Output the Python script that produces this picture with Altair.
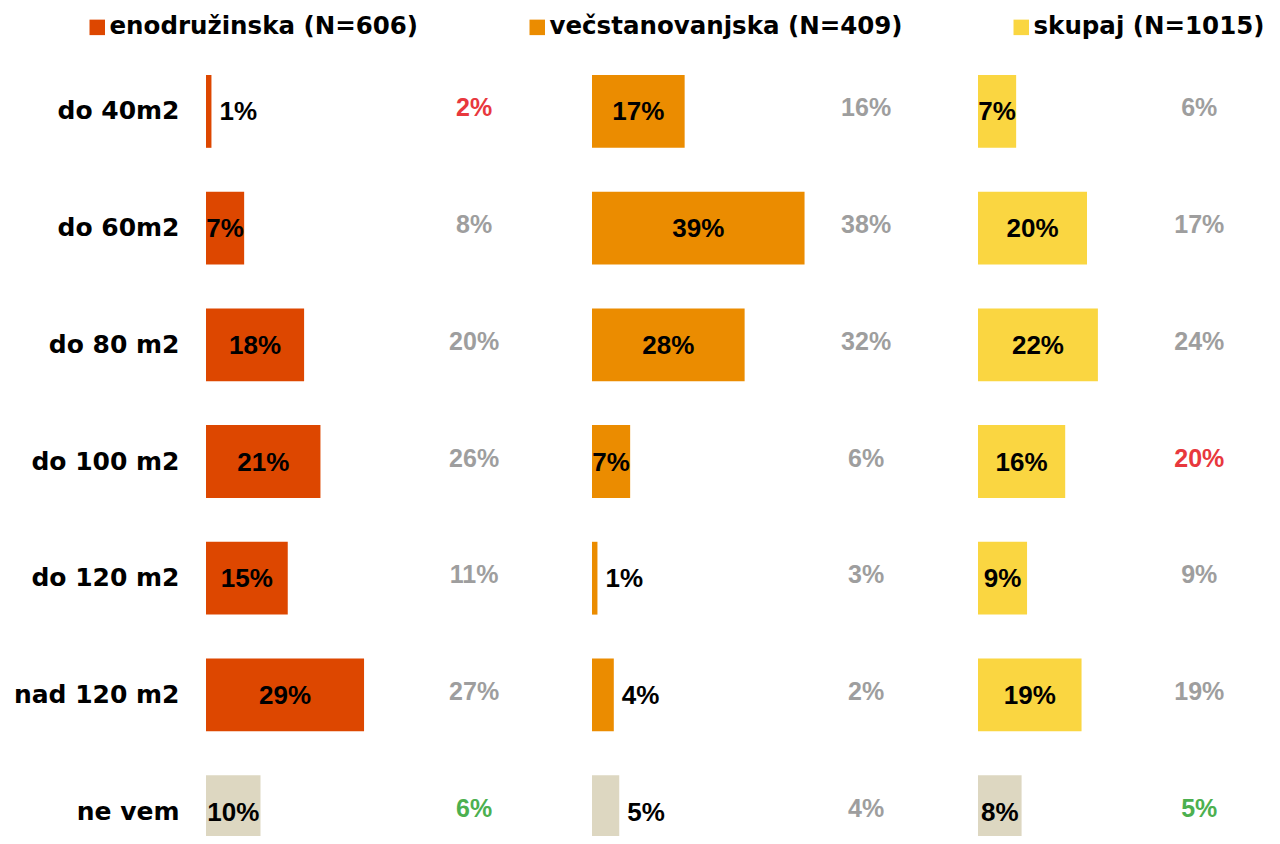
import altair as alt
import pandas as pd

rows = ["do 40m2", "do 60m2", "do 80 m2", "do 100 m2", "do 120 m2", "nad 120 m2", "ne vem"]
series = ["enodružinska (N=606)", "večstanovanjska (N=409)", "skupaj (N=1015)"]

eno = [1, 7, 18, 21, 15, 29, 10]
eno_cmp = [2, 8, 20, 26, 11, 27, 6]
eno_flag = ["up", "", "", "", "", "", "down"]

vec = [17, 39, 28, 7, 1, 4, 5]
vec_cmp = [16, 38, 32, 6, 3, 2, 4]
vec_flag = ["", "", "", "", "", "", ""]

sku = [7, 20, 22, 16, 9, 19, 8]
sku_cmp = [6, 17, 24, 20, 9, 19, 5]
sku_flag = ["", "", "", "up", "", "", "down"]

COLORS = ["#dd4700", "#eb8c00", "#fad641"]
BEIGE = "#ddd7c1"
GREY = "#9e9e9e"
RED = "#e8383d"
GREEN = "#4cb04f"

recs = []
for i, (s, vals, cmps, flags) in enumerate(zip(series, [eno, vec, sku], [eno_cmp, vec_cmp, sku_cmp],
                                               [eno_flag, vec_flag, sku_flag])):
    for k, v, c, f in zip(rows, vals, cmps, flags):
        recs.append({"kat": k, "series": s, "pi": i, "v": v, "cmp": c, "flag": f})
df = pd.DataFrame(recs)

# layout (pixels)
PXPCT = 5.45          # pixels per percentage point
PANEL = 386 / PXPCT    # panel pitch in percentage units
W, Hh = 1066, 776
LEFT, TOP = 198, 52
LABEL_FONT = "Liberation Sans"

xs = alt.Scale(domain=[0, W / PXPCT], nice=False, zero=True)
y = alt.Y("kat:N", sort=rows,
          scale=alt.Scale(range=[15, 788], paddingInner=0.376, paddingOuter=0),
          axis=alt.Axis(title=None, ticks=False, domain=False, labelFont="DejaVu Sans",
                        labelFontWeight="bold", labelFontSize=25, labelColor="#000000",
                        labelPadding=27, labelLimit=400, grid=False))

base = alt.Chart(df).transform_calculate(
    x0=f"datum.pi * {PANEL}",
    x1=f"datum.pi * {PANEL} + datum.v",
    xmid=f"datum.pi * {PANEL} + datum.v / 2",
    xcmp=f"datum.pi * {PANEL} + [49.2, 50.3, 40.6][datum.pi]",
    lab="datum.v + '%'",
    clab="datum.cmp + '%'",
)

color = alt.when(alt.datum.kat == "ne vem").then(alt.value(BEIGE)).otherwise(
    alt.Color("series:N", scale=alt.Scale(domain=series, range=COLORS),
              legend=alt.Legend(title=None, orient="none", legendX=-121, legendY=-45,
                                direction="horizontal", symbolType="square",
                                symbolSize=240, symbolStrokeWidth=0,
                                labelFont="DejaVu Sans", labelFontWeight="bold",
                                labelFontSize=24.5, labelColor="#000000",
                                labelOffset=0, labelLimit=600, columnPadding=106))
)

bars = base.mark_bar().encode(
    x=alt.X("x0:Q", scale=xs, axis=None),
    x2="x1:Q",
    y=y,
    color=color,
)
inside = base.transform_filter(alt.datum.v >= 7).mark_text(
    font=LABEL_FONT, fontWeight="bold", fontSize=26, color="#000000",
    align="center", baseline="middle", dy=1).encode(
    x=alt.X("xmid:Q", scale=xs, axis=None), y=y, text="lab:N",
)
outside = base.transform_filter(alt.datum.v < 7).mark_text(
    font=LABEL_FONT, fontWeight="bold", fontSize=26, color="#000000",
    align="left", baseline="middle", dx=8, dy=1).encode(
    x=alt.X("x1:Q", scale=xs, axis=None), y=y, text="lab:N",
)
tcolor = alt.when(alt.datum.flag == "up").then(alt.value(RED)).when(
    alt.datum.flag == "down").then(alt.value(GREEN)).otherwise(alt.value(GREY))
cmp = base.mark_text(
    font=LABEL_FONT, fontWeight="bold", fontSize=25,
    align="center", baseline="middle", dy=-3).encode(
    x=alt.X("xcmp:Q", scale=xs, axis=None), y=y, text="clab:N", color=tcolor,
)

chart = alt.layer(bars, inside, outside, cmp).properties(
    width=W, height=Hh,
    autosize=alt.AutoSizeParams(type="none"),
    padding={"left": LEFT, "top": TOP, "right": 0, "bottom": 0},
    background="#ffffff",
).configure_view(strokeWidth=0)

chart.save("out.html", embed_options={"renderer": "svg", "actions": False})
